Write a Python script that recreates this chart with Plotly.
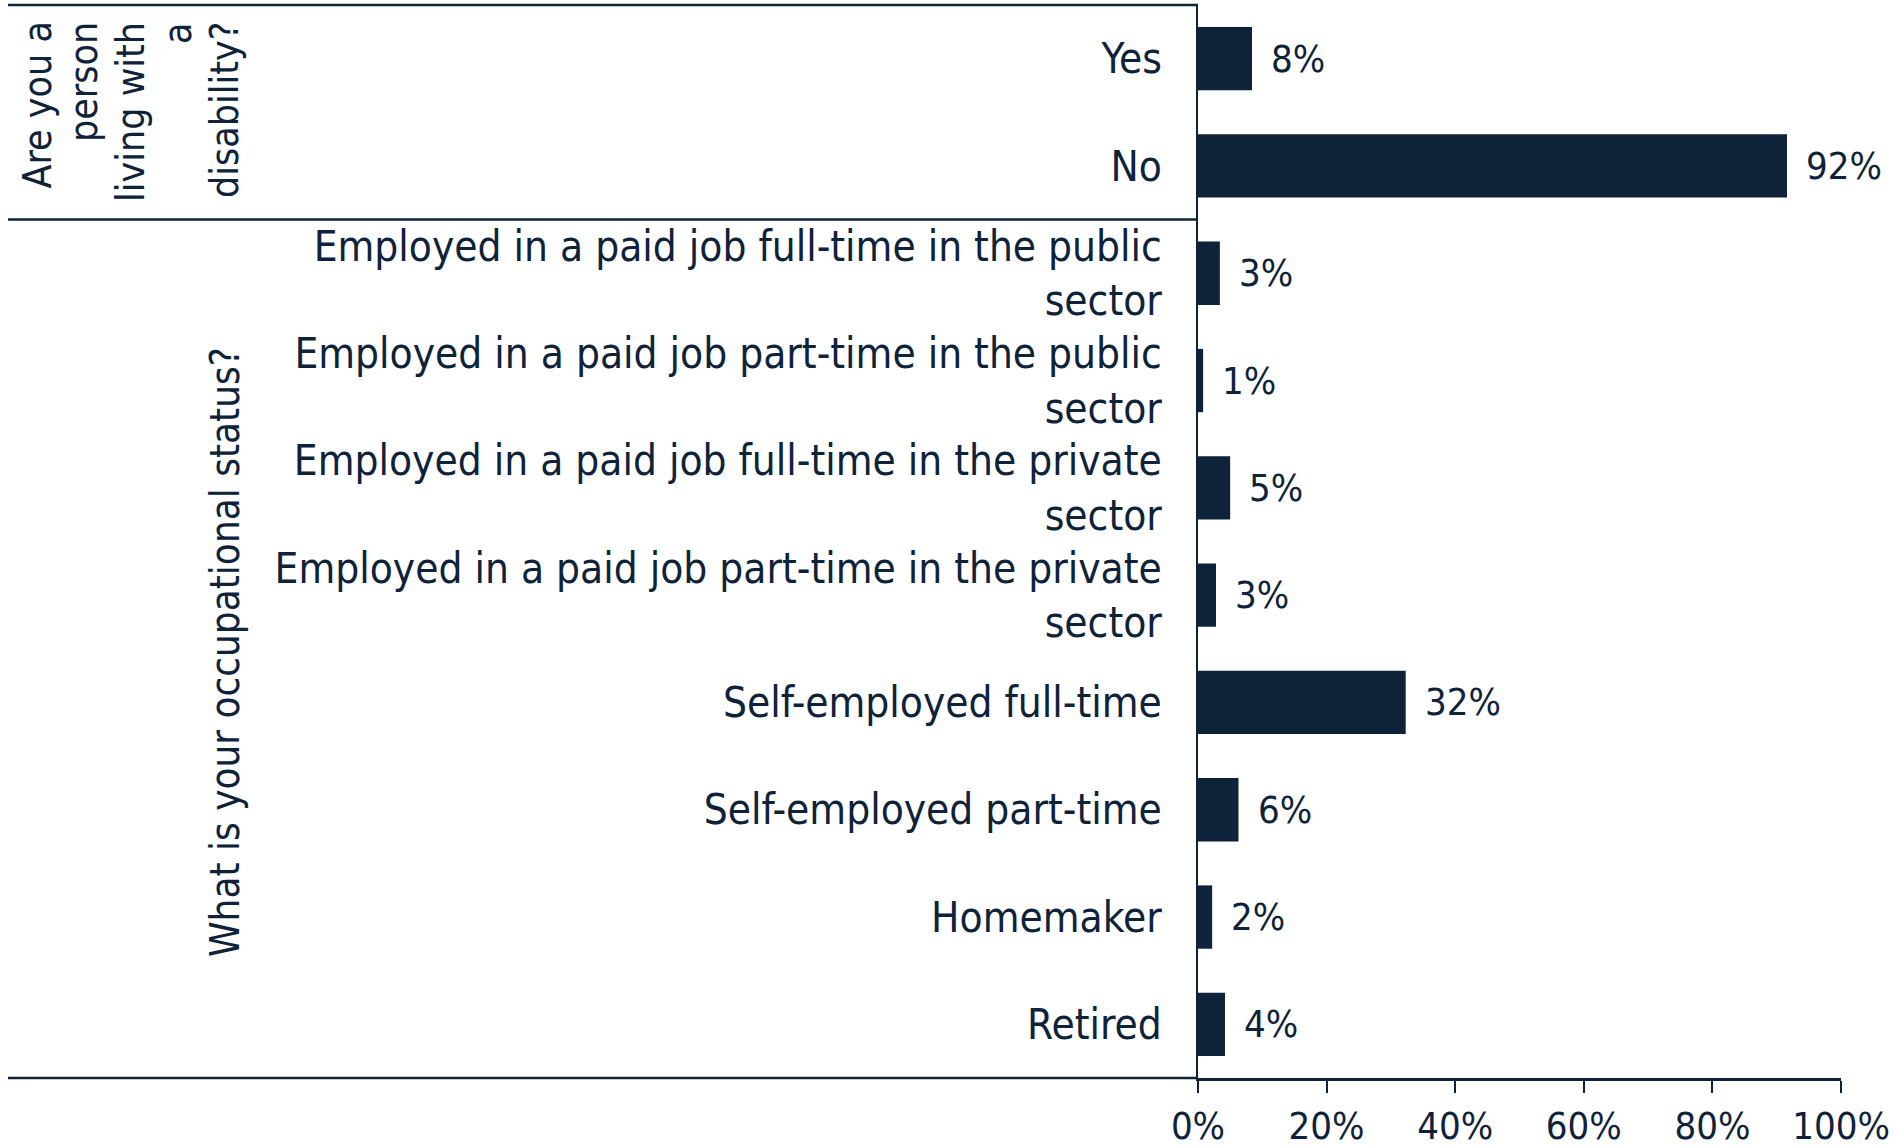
import plotly.graph_objects as go

# ---- data ----
categories = [
    "Yes", "No",
    "FT public", "PT public", "FT private", "PT private",
    "SE FT", "SE PT", "Homemaker", "Retired",
]
tick_labels = [
    "Yes",
    "No",
    "Employed in a paid job full-time in the public<br>sector",
    "Employed in a paid job part-time in the public<br>sector",
    "Employed in a paid job full-time in the private<br>sector",
    "Employed in a paid job part-time in the private<br>sector",
    "Self-employed full-time",
    "Self-employed part-time",
    "Homemaker",
    "Retired",
]
values = [8.4, 91.6, 3.4, 0.8, 5.0, 2.8, 32.3, 6.3, 2.2, 4.2]
value_labels = ["8%", "92%", "3%", "1%", "5%", "3%", "32%", "6%", "2%", "4%"]
x_tickvals = [0, 20, 40, 60, 80, 100]
x_ticktext = ["0%", "20%", "40%", "60%", "80%", "100%"]
group1_title_lines = ["Are you a", "person", "living with", "a", "disability?"]
group2_title = "What is your occupational status?"

# ---- style ----
W, H = 1904, 1148
NAVY = "#0E2239"
FONT = "DejaVu Sans Condensed, DejaVu Sans, sans-serif"
NUMFONT = "DejaVu Sans Condensed, DejaVu Sans, sans-serif"
FS = 42
NFS = 38
TFS = 39

def px_x(p):
    return p / W

def px_y(p):
    return 1 - p / H

plot_left, plot_right = 1198, 1841
plot_top, plot_bottom = 5, 1078

fig = go.Figure()
fig.add_trace(go.Bar(
    x=values, y=categories, orientation="h",
    marker=dict(color=NAVY, line=dict(width=0)),
    width=0.59, hoverinfo="x+y",
))

annotations = []
for c, v, t in zip(categories, values, value_labels):
    annotations.append(dict(
        x=v, y=c, xref="x", yref="y", text=t, showarrow=False,
        xanchor="left", yanchor="middle", xshift=17,
        font=dict(family=NUMFONT, size=NFS, color=NAVY),
    ))

# group 1 title: lines right-aligned (top end in rotated view)
line_step = 47
n = len(group1_title_lines)
for i, line in enumerate(group1_title_lines):
    cx = 131 + (i - (n - 1) / 2) * line_step
    annotations.append(dict(
        x=px_x(cx), y=px_y(20), xref="paper", yref="paper",
        text=line, textangle=-90, showarrow=False,
        xanchor="center", yanchor="top",
        font=dict(family=FONT, size=TFS, color=NAVY),
    ))
annotations.append(dict(
    x=px_x(225), y=px_y(652), xref="paper", yref="paper",
    text=group2_title, textangle=-90, showarrow=False,
    xanchor="center", yanchor="middle", align="center",
    font=dict(family=FONT, size=40, color=NAVY),
))

shapes = [
    dict(type="line", xref="paper", yref="paper",
         x0=px_x(8), x1=px_x(plot_left), y0=px_y(plot_top), y1=px_y(plot_top),
         line=dict(color=NAVY, width=2.5)),
    dict(type="line", xref="paper", yref="paper",
         x0=px_x(8), x1=px_x(plot_left), y0=px_y(219.5), y1=px_y(219.5),
         line=dict(color=NAVY, width=2.5)),
    dict(type="line", xref="paper", yref="paper",
         x0=px_x(8), x1=px_x(plot_left), y0=px_y(plot_bottom), y1=px_y(plot_bottom),
         line=dict(color=NAVY, width=2.5)),
]

fig.update_layout(
    template="none",
    width=W, height=H, autosize=False,
    margin=dict(l=0, r=0, t=0, b=0, pad=0),
    paper_bgcolor="white", plot_bgcolor="white",
    showlegend=False,
    annotations=annotations,
    shapes=shapes,
    font=dict(family=FONT, size=FS, color=NAVY),
)
fig.update_xaxes(
    domain=[px_x(plot_left), px_x(plot_right)],
    range=[0, 100], tickvals=x_tickvals, ticktext=x_ticktext,
    showgrid=False, zeroline=False, automargin=False,
    showline=True, linecolor=NAVY, linewidth=2.5,
    ticks="outside", ticklen=12, tickwidth=1.5, tickcolor=NAVY,
    tickfont=dict(family=NUMFONT, size=NFS, color=NAVY),
    ticklabelstandoff=1,
    fixedrange=True,
)
fig.update_yaxes(
    domain=[px_y(plot_bottom), px_y(plot_top)],
    categoryorder="array", categoryarray=categories,
    autorange="reversed",
    tickvals=categories, ticktext=tick_labels,
    showgrid=False, zeroline=False, automargin=False,
    showline=True, linecolor=NAVY, linewidth=1.5,
    ticks="", ticklabelstandoff=26,
    tickfont=dict(family=FONT, size=FS, color=NAVY),
    fixedrange=True,
)

fig.write_html(
    "out.html",
    config={"displayModeBar": False},
    post_script="document.body.style.margin='0';document.body.style.overflow='hidden';",
)
